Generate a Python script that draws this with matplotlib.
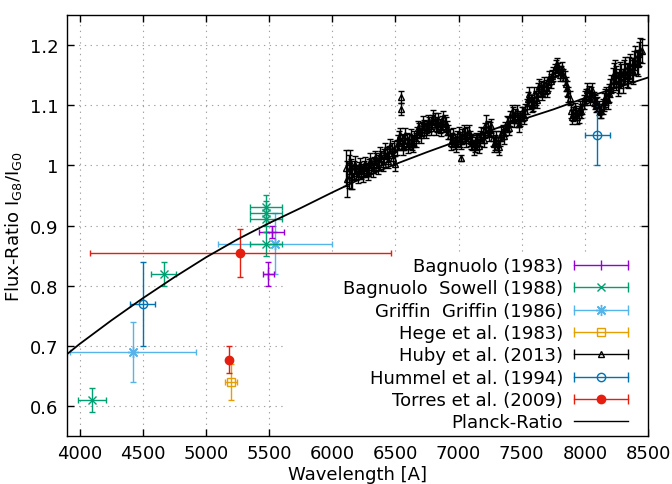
import matplotlib
matplotlib.use('Agg')
import matplotlib.pyplot as plt
from matplotlib.lines import Line2D
from matplotlib.legend_handler import HandlerLine2D, HandlerTuple
from matplotlib.patches import Rectangle

plt.rcParams['font.family'] = ['DejaVu Sans']
plt.rcParams['mathtext.fontset'] = 'dejavusans'

# ---------------- data ----------------
bag83_x = [5520, 5495]
bag83_y = [0.89, 0.82]
bag83_xerr = [100, 47]
bag83_yerr = [0.01, 0.02]

bs88_x = [4100, 4665, 5475, 5475, 5475, 5475]
bs88_y = [0.61, 0.82, 0.93, 0.92, 0.91, 0.87]
bs88_xerr = [110, 100, 125, 125, 125, 125]
bs88_yerr = [0.02, 0.02, 0.02, 0.02, 0.02, 0.02]

gg86_x = [4420, 5547]
gg86_y = [0.69, 0.87]
gg86_xerr = [500, 450]
gg86_yerr = [0.05, 0.05]

hege_x = [5197]
hege_y = [0.64]
hege_xerr = [48]
hege_yerr = [0.03]

hum_x = [4500, 8100]
hum_y = [0.77, 1.05]
hum_xerr = [100, 100]
hum_yerr = [0.07, 0.05]

tor_x = [5273, 5185]
tor_y = [0.855, 0.677]
tor_xerr = [1190, 8]
tor_yerr = [0.04, 0.023]

# Huby et al. (2013): first set
huby_x = [6110, 6130, 6150, 6170, 6190, 6210, 6230, 6250, 6270, 6290,
          6310, 6330, 6350, 6370, 6390, 6410, 6430, 6450, 6470, 6490,
          6510, 6530, 6545, 6548, 6550, 6570, 6590, 6610, 6630, 6650,
          6670, 6690, 6710, 6730, 6750, 6770, 6790, 6810, 6830, 6850,
          6870, 6890, 6910, 6930, 6950, 6970, 6990, 7010, 7020, 7030,
          7050, 7070, 7090, 7110, 7130, 7150, 7170, 7190, 7210, 7230,
          7250, 7270, 7290, 7310, 7330, 7350, 7370, 7390, 7410, 7430,
          7450, 7470, 7490, 7510, 7530, 7550, 7570, 7590, 7610, 7630,
          7650, 7670, 7690, 7710, 7730, 7750, 7770, 7790, 7810, 7830,
          7850, 7870, 7890, 7910, 7930, 7950, 7970, 7990, 8010, 8030,
          8050, 8070, 8090, 8110, 8130, 8150, 8170, 8190, 8210, 8230,
          8250, 8270, 8290, 8310, 8330, 8350, 8370, 8390, 8410, 8430,
          8450]
huby_y = [0.995, 0.990, 0.985, 0.992, 0.988, 0.993, 0.990, 0.995, 0.992, 0.998,
          1.000, 1.002, 1.008, 1.005, 1.012, 1.015, 1.018, 1.020, 1.025, 1.028,
          1.030, 1.045, 1.113, 1.093, 1.040, 1.038, 1.042, 1.040, 1.038, 1.045,
          1.052, 1.058, 1.060, 1.063, 1.062, 1.068, 1.072, 1.075, 1.068, 1.065,
          1.070, 1.072, 1.062, 1.048, 1.042, 1.040, 1.045, 1.043, 1.012, 1.048,
          1.050, 1.052, 1.045, 1.038, 1.035, 1.038, 1.045, 1.050, 1.058, 1.062,
          1.060, 1.045, 1.038, 1.035, 1.045, 1.055, 1.060, 1.068, 1.078, 1.085,
          1.082, 1.075, 1.078, 1.085, 1.090, 1.110, 1.105, 1.102, 1.112, 1.125,
          1.128, 1.126, 1.130, 1.135, 1.140, 1.152, 1.165, 1.160, 1.155, 1.150,
          1.135, 1.118, 1.090, 1.085, 1.087, 1.083, 1.090, 1.105, 1.115, 1.120,
          1.118, 1.110, 1.100, 1.095, 1.090, 1.105, 1.115, 1.120, 1.135, 1.150,
          1.145, 1.140, 1.148, 1.155, 1.150, 1.160, 1.158, 1.170, 1.172, 1.185,
          1.190]
huby_yerr = [0.03, 0.028, 0.025, 0.015, 0.012, 0.012, 0.012, 0.012, 0.012, 0.012,
             0.012, 0.012, 0.012, 0.012, 0.012, 0.012, 0.012, 0.012, 0.012, 0.012,
             0.012, 0.012, 0.01, 0.01, 0.012, 0.012, 0.012, 0.012, 0.012, 0.012,
             0.012, 0.012, 0.012, 0.012, 0.012, 0.012, 0.012, 0.012, 0.012, 0.012,
             0.012, 0.012, 0.012, 0.012, 0.012, 0.012, 0.012, 0.012, 0.005, 0.012,
             0.012, 0.012, 0.012, 0.012, 0.012, 0.012, 0.012, 0.012, 0.012, 0.012,
             0.012, 0.012, 0.012, 0.012, 0.012, 0.012, 0.012, 0.012, 0.012, 0.012,
             0.012, 0.012, 0.012, 0.012, 0.012, 0.012, 0.012, 0.012, 0.012, 0.012,
             0.012, 0.012, 0.012, 0.012, 0.012, 0.012, 0.010, 0.010, 0.010, 0.010,
             0.012, 0.012, 0.012, 0.012, 0.012, 0.012, 0.012, 0.012, 0.012, 0.012,
             0.012, 0.012, 0.012, 0.012, 0.012, 0.015, 0.015, 0.015, 0.015, 0.02,
             0.02, 0.02, 0.02, 0.02, 0.02, 0.02, 0.02, 0.02, 0.02, 0.02,
             0.02]

# Huby et al. (2013): interleaved second set
huby2_x = [6120, 6140, 6160, 6180, 6200, 6220, 6240, 6260, 6280, 6300,
           6320, 6340, 6360, 6380, 6400, 6420, 6440, 6460, 6480, 6500,
           6520, 6540, 6560, 6580, 6600, 6620, 6640, 6660, 6680, 6700,
           6720, 6740, 6760, 6780, 6800, 6820, 6840, 6860, 6880, 6900,
           6920, 6940, 6960, 6980, 7000, 7020, 7040, 7060, 7080, 7100,
           7120, 7140, 7160, 7180, 7200, 7220, 7240, 7260, 7280, 7300,
           7320, 7340, 7360, 7380, 7400, 7420, 7440, 7460, 7480, 7500,
           7520, 7540, 7560, 7580, 7600, 7620, 7640, 7660, 7680, 7700,
           7720, 7740, 7760, 7780, 7800, 7820, 7840, 7860, 7880, 7900,
           7920, 7940, 7960, 7980, 8000, 8020, 8040, 8060, 8080, 8100,
           8120, 8140, 8160, 8180, 8200, 8220, 8240, 8260, 8280, 8300,
           8320, 8340, 8360, 8380, 8400, 8420, 8440]
huby2_y = [0.978, 1.005, 0.980, 1.000, 0.982, 1.000, 0.985, 1.002, 0.988, 1.008,
           0.992, 1.012, 0.998, 1.018, 1.002, 1.025, 1.008, 1.032, 1.012, 1.003,
           1.038, 1.050, 1.030, 1.050, 1.032, 1.048, 1.035, 1.042, 1.062, 1.050,
           1.070, 1.058, 1.072, 1.062, 1.080, 1.062, 1.075, 1.060, 1.078, 1.068,
           1.055, 1.038, 1.050, 1.035, 1.052, 1.040, 1.055, 1.042, 1.055, 1.040,
           1.030, 1.042, 1.032, 1.052, 1.042, 1.068, 1.052, 1.065, 1.035, 1.045,
           1.030, 1.052, 1.048, 1.070, 1.062, 1.088, 1.075, 1.088, 1.068, 1.085,
           1.080, 1.098, 1.118, 1.100, 1.118, 1.108, 1.132, 1.120, 1.135, 1.125,
           1.145, 1.148, 1.158, 1.168, 1.150, 1.162, 1.145, 1.128, 1.112, 1.080,
           1.092, 1.080, 1.095, 1.098, 1.112, 1.125, 1.112, 1.125, 1.105, 1.102,
           1.090, 1.098, 1.112, 1.108, 1.128, 1.142, 1.155, 1.135, 1.152, 1.140,
           1.160, 1.148, 1.165, 1.155, 1.178, 1.168, 1.192]
huby2_yerr = [0.03, 0.02, 0.02, 0.015, 0.012, 0.012, 0.012, 0.012, 0.012, 0.012,
              0.012, 0.012, 0.012, 0.012, 0.012, 0.012, 0.012, 0.012, 0.012, 0.012,
              0.012, 0.012, 0.012, 0.012, 0.012, 0.012, 0.012, 0.012, 0.012, 0.012,
              0.012, 0.012, 0.012, 0.012, 0.012, 0.012, 0.012, 0.012, 0.012, 0.012,
              0.012, 0.012, 0.012, 0.012, 0.012, 0.012, 0.012, 0.012, 0.012, 0.012,
              0.012, 0.012, 0.012, 0.012, 0.012, 0.015, 0.012, 0.012, 0.012, 0.012,
              0.012, 0.012, 0.012, 0.012, 0.012, 0.012, 0.012, 0.012, 0.012, 0.012,
              0.012, 0.012, 0.012, 0.012, 0.012, 0.012, 0.012, 0.012, 0.012, 0.012,
              0.012, 0.010, 0.010, 0.010, 0.010, 0.010, 0.012, 0.012, 0.012, 0.012,
              0.012, 0.012, 0.012, 0.012, 0.012, 0.012, 0.012, 0.012, 0.012, 0.012,
              0.012, 0.012, 0.015, 0.015, 0.015, 0.02, 0.02, 0.02, 0.02, 0.02,
              0.02, 0.02, 0.02, 0.02, 0.02, 0.02, 0.02]

planck_x = [3900, 4000, 4250, 4500, 4750, 5000, 5250, 5500, 5750, 6000,
            6250, 6500, 6750, 7000, 7250, 7500, 7750, 8000, 8250, 8500]
planck_y = [0.686, 0.703, 0.742, 0.779, 0.814, 0.847, 0.877, 0.904, 0.929, 0.955,
            0.980, 1.002, 1.022, 1.041, 1.058, 1.076, 1.093, 1.112, 1.129, 1.146]

labels = ['Bagnuolo (1983)', 'Bagnuolo  Sowell (1988)', 'Griffin  Griffin (1986)',
          'Hege et al. (1983)', 'Huby et al. (2013)', 'Hummel et al. (1994)',
          'Torres et al. (2009)', 'Planck-Ratio']

# ---------------- figure ----------------
fig = plt.figure(figsize=(6.72, 4.85), dpi=100)
ax = fig.add_axes([67/672, 1-437/485, (648-67)/672, (437-16)/485])

ax.set_xlim(3900, 8500)
ax.set_ylim(0.55, 1.25)
ax.set_xticks([4000, 4500, 5000, 5500, 6000, 6500, 7000, 7500, 8000, 8500])
ax.set_yticks([0.6, 0.7, 0.8, 0.9, 1.0, 1.1, 1.2])
ax.set_yticklabels(['0.6', '0.7', '0.8', '0.9', '1', '1.1', '1.2'])
ax.tick_params(direction='in', length=5, width=1, top=True, right=True,
               labelsize=13, pad=6)
ax.grid(True, color='#a0a0a0', lw=0.8, linestyle=(0, (1.2, 4)))
ax.set_axisbelow(True)
for s in ax.spines.values():
    s.set_linewidth(1.0)

# white key box hiding grid
ax.add_patch(Rectangle((0.3718, 0), 1 - 0.3718, 0.432, transform=ax.transAxes,
                       facecolor='white', edgecolor='none', zorder=1))

ek = dict(capsize=2.5, elinewidth=1.0, capthick=1.0, lw=0, zorder=3)

C_PUR = '#9400D3'
C_GRN = '#009E73'
C_LBL = '#56B4E9'
C_ORA = '#E69F00'
C_BLK = '#000000'
C_BLU = '#0072B2'
C_RED = '#E51E10'
AST = (8, 2, 0)

hk = dict(fmt='^', color=C_BLK, ms=4.5, mfc='none', mew=1.0, capsize=2.5,
          elinewidth=1.0, capthick=1.0, lw=0, zorder=3)
ax.errorbar(huby_x, huby_y, yerr=huby_yerr, **hk)
ax.errorbar(huby2_x, huby2_y, yerr=huby2_yerr, **hk)
ax.plot(planck_x, planck_y, color='black', lw=1.3, zorder=4)
ax.errorbar(gg86_x, gg86_y, xerr=gg86_xerr, yerr=gg86_yerr, fmt='none', color=C_LBL, **ek)
ax.plot(gg86_x, gg86_y, ls='none', marker=AST, ms=8, mec=C_LBL, mew=1.0, zorder=3)
ax.errorbar(bag83_x, bag83_y, xerr=bag83_xerr, yerr=bag83_yerr, fmt='+', color=C_PUR,
            ms=7, mew=1.0, **ek)
ax.errorbar(bs88_x, bs88_y, xerr=bs88_xerr, yerr=bs88_yerr, fmt='x', color=C_GRN,
            ms=6, mew=1.0, **ek)
ax.errorbar(hege_x, hege_y, xerr=hege_xerr, yerr=hege_yerr, fmt='s', color=C_ORA,
            ms=6, mfc='none', mew=1.0, **ek)
ax.errorbar(hum_x, hum_y, xerr=hum_xerr, yerr=hum_yerr, fmt='o', color=C_BLU,
            ms=6, mfc='none', mew=1.0, **ek)
ax.errorbar(tor_x, tor_y, xerr=tor_xerr, yerr=tor_yerr, fmt='o', color=C_RED,
            ms=6, **ek)

# ---------------- legend (gnuplot style) ----------------
specs = [(C_PUR, '|', 'none', 0), (C_GRN, 'x', 'none', 6), (C_LBL, AST, 'none', 8),
         (C_ORA, 's', 'none', 6), (C_BLK, '^', 'none', 5), (C_BLU, 'o', 'none', 6),
         (C_RED, 'o', C_RED, 6)]
handles = []
hmap = {}
for i, (c, m, mfc, ms) in enumerate(specs):
    cap = Line2D([], [], color=c, lw=1.0, marker='|', markersize=7, mew=1.0)
    if i == 0:
        mk = Line2D([], [], color=c, lw=0, marker='|', markersize=7, mew=1.0)
    else:
        mk = Line2D([], [], color=c, lw=0, marker=m, markersize=ms, mfc=mfc,
                    mec=c, mew=1.0)
    hmap[cap] = HandlerLine2D(marker_pad=0, numpoints=2)
    handles.append((cap, mk))
handles.append(Line2D([], [], color='black', lw=1.0))
hmap[tuple] = HandlerTuple(ndivide=1)

leg = ax.legend(handles, labels, handler_map=hmap, loc='lower right',
                bbox_to_anchor=((628-67)/581, (437-432.5)/421),
                borderpad=0, borderaxespad=0, frameon=False, markerfirst=False,
                handlelength=3.0, handletextpad=0.6, labelspacing=0.24,
                fontsize=13, numpoints=1)
leg.set_zorder(5)

ax.set_xlabel('Wavelength [A]', fontsize=13, labelpad=2)
ax.set_ylabel(r'Flux-Ratio I$_{\mathrm{G8}}$/I$_{\mathrm{G0}}$', fontsize=13, labelpad=4)

fig.savefig('out.png', dpi=100)
